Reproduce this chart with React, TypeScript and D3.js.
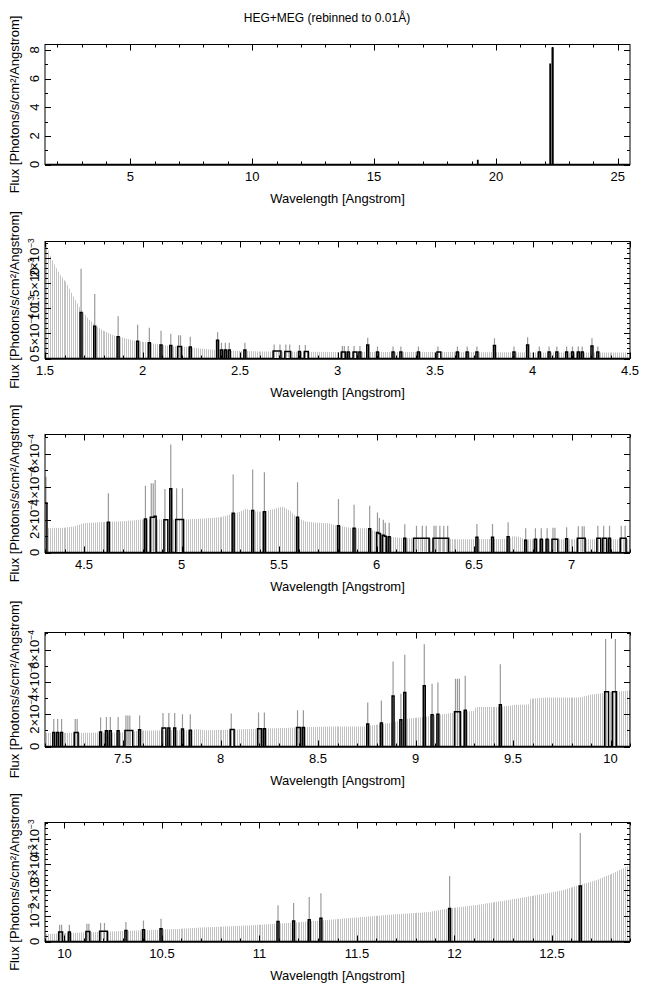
import * as d3 from "d3";

// HEG+MEG spectrum, 0.01 Å bins, shown as one overview panel and four 3 Å zoom panels.

type Bin = [number, number, number]; // bin start [Å], flux, top of error bar (0 = none drawn)
type Knot = [number, number]; // wavelength [Å], upper error of empty bins

const BIN = 0.01;
const TITLE = "HEG+MEG (rebinned to 0.01Å)";
const X_TITLE = "Wavelength [Angstrom]";
const Y_TITLE = "Flux [Photons/s/cm²/Angstrom]";

// ---- panel 1: full band
const P1_X = [1.5, 25.5];
const P1_YTICKS = [0, 2, 4, 6, 8];
const P1_YLABELS = ["0", "2", "4", "6", "8"];
const P1_BINS: Bin[] = [
  [19.25, 0.28, 0],
  [22.22, 7.0, 0],
  [22.31, 8.1, 0],
  [22.32, 8.15, 0],
  [22.33, 8.1, 0],
];
const P1_ENV: Knot[] = [];

// ---- panel 2: 1.5 - 4.5 Å
const P2_X = [1.5, 4.5];
const P2_YTICKS = [0, 5e-4, 1e-3, 1.5e-3, 2e-3];
const P2_YLABELS = ["0", "5×10^−4", "10^−3", "1.5×10^−3", "2×10^−3"];
const P2_ENV: Knot[] = [
  [1.5, 2.4e-3], [1.52, 2.1e-3], [1.55, 1.85e-3], [1.58, 1.65e-3], [1.61, 1.5e-3],
  [1.65, 1.2e-3], [1.68, 1.0e-3], [1.72, 0.8e-3], [1.76, 0.65e-3], [1.8, 0.55e-3],
  [1.85, 0.46e-3], [1.9, 0.41e-3], [1.95, 0.36e-3], [2.0, 0.33e-3], [2.05, 0.3e-3],
  [2.1, 0.27e-3], [2.15, 0.25e-3], [2.2, 0.24e-3], [2.25, 0.22e-3], [2.3, 0.2e-3],
  [2.35, 0.18e-3], [2.4, 0.16e-3], [2.5, 0.15e-3], [2.6, 0.14e-3], [3.0, 0.13e-3],
  [3.5, 0.13e-3], [4.0, 0.12e-3], [4.5, 0.12e-3],
];
const P2_BINS: Bin[] = [
  [1.68, 0.91e-3, 1.78e-3], [1.75, 0.64e-3, 1.28e-3], [1.87, 0.43e-3, 0.84e-3],
  [1.97, 0.34e-3, 0.67e-3], [2.03, 0.31e-3, 0.61e-3], [2.09, 0.27e-3, 0.55e-3],
  [2.14, 0.26e-3, 0.49e-3], [2.18, 0.24e-3, 0.46e-3], [2.19, 0.24e-3, 0.46e-3],
  [2.24, 0.23e-3, 0.43e-3], [2.38, 0.36e-3, 0.52e-3],
  [2.4, 0.17e-3, 0.31e-3], [2.42, 0.17e-3, 0.31e-3], [2.44, 0.17e-3, 0.31e-3],
  [2.52, 0.17e-3, 0.31e-3],
  [2.67, 0.15e-3, 0.28e-3], [2.68, 0.15e-3, 0], [2.69, 0.15e-3, 0], [2.7, 0.15e-3, 0.28e-3],
  [2.73, 0.14e-3, 0.28e-3], [2.74, 0.14e-3, 0], [2.75, 0.14e-3, 0.28e-3],
  [2.8, 0.14e-3, 0.27e-3], [2.83, 0.14e-3, 0.27e-3], [2.84, 0.14e-3, 0],
  [3.02, 0.13e-3, 0.25e-3], [3.03, 0.13e-3, 0.25e-3], [3.05, 0.13e-3, 0.25e-3],
  [3.08, 0.13e-3, 0.25e-3], [3.09, 0.13e-3, 0], [3.11, 0.13e-3, 0.25e-3],
  [3.15, 0.27e-3, 0.41e-3], [3.2, 0.13e-3, 0.24e-3], [3.28, 0.13e-3, 0.24e-3],
  [3.32, 0.13e-3, 0.24e-3], [3.41, 0.13e-3, 0.24e-3], [3.51, 0.13e-3, 0.24e-3],
  [3.52, 0.13e-3, 0], [3.61, 0.13e-3, 0.24e-3], [3.66, 0.13e-3, 0.24e-3],
  [3.71, 0.13e-3, 0.24e-3], [3.8, 0.26e-3, 0.4e-3], [3.9, 0.13e-3, 0.24e-3],
  [3.97, 0.27e-3, 0.42e-3], [4.03, 0.13e-3, 0.24e-3], [4.08, 0.13e-3, 0.24e-3],
  [4.12, 0.13e-3, 0.24e-3], [4.17, 0.13e-3, 0.24e-3], [4.2, 0.13e-3, 0.24e-3],
  [4.23, 0.13e-3, 0.24e-3], [4.25, 0.13e-3, 0.24e-3], [4.3, 0.25e-3, 0.4e-3],
  [4.33, 0.13e-3, 0.24e-3],
];

// ---- panel 3: 4.3 - 7.3 Å
const P3_X = [4.3, 7.3];
const P34_YTICKS = [0, 2e-4, 4e-4, 6e-4];
const P34_YLABELS = ["0", "2×10^−4", "4×10^−4", "6×10^−4"];
const P3_ENV: Knot[] = [
  [4.3, 1.47e-4], [4.4, 1.5e-4], [4.45, 1.6e-4], [4.5, 1.77e-4], [4.6, 1.85e-4],
  [4.7, 1.9e-4], [4.8, 2.0e-4], [5.0, 2.0e-4], [5.1, 2.05e-4], [5.2, 2.14e-4],
  [5.3, 2.48e-4], [5.33, 2.65e-4], [5.37, 2.5e-4], [5.42, 2.48e-4], [5.47, 2.63e-4],
  [5.52, 2.79e-4], [5.56, 2.5e-4], [5.59, 2.14e-4], [5.64, 1.87e-4], [5.7, 1.8e-4],
  [5.75, 1.77e-4], [5.8, 1.63e-4], [5.88, 1.47e-4], [5.95, 1.47e-4], [6.0, 1.26e-4],
  [6.07, 0.95e-4], [6.14, 0.86e-4], [6.33, 0.86e-4], [6.4, 0.81e-4], [6.68, 0.82e-4],
  [6.7, 1.0e-4], [6.73, 0.95e-4], [6.76, 0.8e-4], [7.3, 0.8e-4],
];
const P3_BINS: Bin[] = [
  [4.3, 3.0e-4, 4.6e-4], [4.62, 1.83e-4, 3.6e-4], [4.81, 2.04e-4, 4.05e-4],
  [4.84, 2.14e-4, 4.2e-4], [4.85, 2.14e-4, 4.2e-4], [4.86, 2.2e-4, 4.4e-4],
  [4.91, 1.98e-4, 3.85e-4], [4.92, 1.98e-4, 0], [4.94, 3.87e-4, 6.56e-4],
  [4.97, 2.0e-4, 3.9e-4], [4.98, 2.0e-4, 0], [4.99, 2.0e-4, 0], [5.0, 2.0e-4, 3.9e-4],
  [5.26, 2.38e-4, 4.73e-4], [5.36, 2.55e-4, 5.03e-4], [5.42, 2.47e-4, 4.87e-4],
  [5.59, 2.14e-4, 4.26e-4], [5.8, 1.63e-4, 3.24e-4], [5.88, 1.47e-4, 2.9e-4],
  [5.96, 1.44e-4, 2.83e-4], [6.0, 1.22e-4, 2.42e-4], [6.01, 1.15e-4, 2.1e-4],
  [6.03, 1.05e-4, 1.98e-4], [6.04, 0.98e-4, 1.8e-4], [6.06, 0.95e-4, 1.8e-4],
  [6.14, 0.86e-4, 1.71e-4],
  [6.19, 0.86e-4, 0], [6.2, 0.86e-4, 1.63e-4], [6.21, 0.86e-4, 0], [6.22, 0.86e-4, 0],
  [6.23, 0.86e-4, 1.63e-4], [6.24, 0.86e-4, 0], [6.25, 0.86e-4, 1.63e-4], [6.26, 0.86e-4, 0],
  [6.29, 0.86e-4, 1.63e-4], [6.3, 0.86e-4, 1.63e-4], [6.31, 0.86e-4, 0],
  [6.32, 0.86e-4, 1.63e-4], [6.33, 0.86e-4, 0], [6.34, 0.86e-4, 1.63e-4],
  [6.35, 0.86e-4, 0], [6.36, 0.86e-4, 1.63e-4],
  [6.51, 0.92e-4, 1.73e-4], [6.59, 0.92e-4, 1.73e-4], [6.67, 0.95e-4, 1.83e-4],
  [6.76, 0.75e-4, 1.47e-4], [6.81, 0.8e-4, 1.47e-4], [6.84, 0.8e-4, 1.47e-4],
  [6.87, 0.8e-4, 1.47e-4], [6.9, 0.8e-4, 1.5e-4], [6.91, 0.8e-4, 1.5e-4], [6.92, 0.8e-4, 0],
  [6.97, 0.83e-4, 1.53e-4], [7.03, 0.86e-4, 1.6e-4], [7.04, 0.86e-4, 0],
  [7.05, 0.86e-4, 1.6e-4], [7.06, 0.86e-4, 1.6e-4],
  [7.13, 0.86e-4, 1.63e-4], [7.14, 0.86e-4, 0], [7.16, 0.86e-4, 1.63e-4],
  [7.17, 0.86e-4, 0], [7.19, 0.86e-4, 1.63e-4],
  [7.25, 0.86e-4, 1.63e-4], [7.26, 0.86e-4, 0], [7.27, 0.86e-4, 1.63e-4],
];

// ---- panel 4: 7.1 - 10.1 Å
const P4_X = [7.1, 10.1];
const P4_ENV: Knot[] = [
  [7.1, 0.83e-4], [7.3, 0.85e-4], [7.5, 0.87e-4], [7.6, 0.99e-4], [7.85, 1.0e-4],
  [7.88, 1.08e-4], [7.92, 1.0e-4], [8.0, 1.02e-4], [8.2, 1.1e-4], [8.4, 1.18e-4],
  [8.56, 1.24e-4], [8.73, 1.24e-4], [8.87, 1.45e-4], [8.95, 1.7e-4], [9.04, 1.82e-4],
  [9.14, 2.0e-4], [9.24, 2.17e-4], [9.3, 2.2e-4], [9.31, 2.44e-4], [9.42, 2.44e-4],
  [9.52, 2.58e-4], [9.58, 2.6e-4], [9.59, 2.95e-4], [9.67, 3.03e-4], [9.84, 3.03e-4],
  [9.9, 3.2e-4], [9.98, 3.34e-4], [10.1, 3.47e-4],
];
const P4_BINS: Bin[] = [
  [7.14, 0.87e-4, 1.7e-4], [7.16, 0.87e-4, 1.7e-4], [7.18, 0.87e-4, 1.7e-4],
  [7.25, 0.87e-4, 1.7e-4], [7.26, 0.87e-4, 1.7e-4], [7.38, 0.9e-4, 1.8e-4],
  [7.41, 0.97e-4, 1.82e-4], [7.43, 0.97e-4, 1.82e-4], [7.47, 0.97e-4, 1.82e-4],
  [7.51, 0.99e-4, 1.92e-4], [7.52, 0.99e-4, 1.92e-4], [7.53, 0.99e-4, 1.92e-4], [7.54, 0.99e-4, 0],
  [7.58, 1.03e-4, 1.92e-4], [7.7, 1.14e-4, 2.07e-4], [7.71, 1.14e-4, 0],
  [7.73, 1.14e-4, 2.07e-4], [7.76, 1.14e-4, 2.07e-4], [7.8, 1.08e-4, 2.0e-4],
  [7.84, 1.0e-4, 2.0e-4],
  [8.05, 1.05e-4, 2.05e-4], [8.06, 1.05e-4, 0], [8.19, 1.1e-4, 2.1e-4], [8.2, 1.1e-4, 0],
  [8.22, 1.1e-4, 2.1e-4], [8.39, 1.18e-4, 2.25e-4], [8.4, 1.18e-4, 0], [8.42, 1.18e-4, 2.25e-4],
  [8.75, 1.4e-4, 2.72e-4], [8.82, 1.45e-4, 2.85e-4], [8.88, 3.12e-4, 5.26e-4],
  [8.92, 1.65e-4, 3.26e-4], [8.94, 3.34e-4, 5.68e-4], [9.04, 3.76e-4, 6.34e-4],
  [9.08, 1.96e-4, 3.88e-4], [9.11, 2.0e-4, 3.96e-4], [9.2, 2.15e-4, 4.19e-4],
  [9.21, 2.15e-4, 4.19e-4], [9.22, 2.15e-4, 4.19e-4], [9.25, 2.25e-4, 4.38e-4],
  [9.43, 2.58e-4, 5.1e-4], [9.97, 3.39e-4, 6.65e-4], [9.98, 3.39e-4, 0],
  [10.01, 3.39e-4, 0], [10.02, 3.39e-4, 6.65e-4],
];

// ---- panel 5: 9.9 - 12.9 Å
const P5_X = [9.9, 12.9];
const P5_YTICKS = [0, 1e-3, 2e-3, 3e-3, 4e-3];
const P5_YLABELS = ["0", "10^−3", "2×10^−3", "3×10^−3", "4×10^−3"];
const P5_ENV: Knot[] = [
  [9.9, 0.29e-3], [10.0, 0.32e-3], [10.1, 0.35e-3], [10.2, 0.38e-3], [10.3, 0.41e-3],
  [10.4, 0.44e-3], [10.5, 0.47e-3], [10.6, 0.5e-3], [10.7, 0.54e-3], [10.8, 0.57e-3],
  [11.0, 0.65e-3], [11.2, 0.75e-3], [11.36, 0.85e-3], [11.53, 0.95e-3], [11.7, 1.06e-3],
  [11.87, 1.15e-3], [11.97, 1.28e-3], [12.13, 1.44e-3], [12.3, 1.64e-3], [12.47, 1.87e-3],
  [12.56, 2.0e-3], [12.64, 2.2e-3], [12.73, 2.39e-3], [12.81, 2.65e-3], [12.88, 2.91e-3],
  [12.9, 2.98e-3],
];
const P5_BINS: Bin[] = [
  [9.97, 0.37e-3, 0.65e-3], [9.98, 0.37e-3, 0.65e-3], [10.02, 0.37e-3, 0.65e-3],
  [10.11, 0.39e-3, 0.69e-3], [10.12, 0.39e-3, 0.69e-3], [10.18, 0.4e-3, 0.72e-3],
  [10.19, 0.4e-3, 0], [10.2, 0.4e-3, 0.72e-3], [10.21, 0.4e-3, 0],
  [10.31, 0.43e-3, 0.76e-3], [10.4, 0.46e-3, 0.82e-3], [10.49, 0.5e-3, 0.89e-3],
  [11.09, 0.78e-3, 1.41e-3], [11.17, 0.8e-3, 1.5e-3], [11.25, 0.85e-3, 1.73e-3],
  [11.31, 0.9e-3, 1.88e-3], [11.97, 1.28e-3, 2.55e-3], [12.64, 2.16e-3, 4.22e-3],
];

const LEFT = 45;
const RIGHT = 630;
const FONT = "'Liberation Sans', Arial, Helvetica, sans-serif";

const PANELS = [
  { x: P1_X, yMax: 8.38, top: 44.5, bottom: 164.5, xMajor: 5, xMinor: 1, yMinor: 1, yTicks: P1_YTICKS, yLabels: P1_YLABELS, bins: P1_BINS, env: P1_ENV },
  { x: P2_X, yMax: 2.32e-3, top: 241.5, bottom: 358.5, xMajor: 0.5, xMinor: 0.1, yMinor: 1e-4, yTicks: P2_YTICKS, yLabels: P2_YLABELS, bins: P2_BINS, env: P2_ENV },
  { x: P3_X, yMax: 7.16e-4, top: 434.5, bottom: 552.5, xMajor: 0.5, xMinor: 0.1, yMinor: 1e-4, yTicks: P34_YTICKS, yLabels: P34_YLABELS, bins: P3_BINS, env: P3_ENV },
  { x: P4_X, yMax: 7.06e-4, top: 632.5, bottom: 746.5, xMajor: 0.5, xMinor: 0.1, yMinor: 1e-4, yTicks: P34_YTICKS, yLabels: P34_YLABELS, bins: P4_BINS, env: P4_ENV },
  { x: P5_X, yMax: 4.63e-3, top: 822.5, bottom: 941.5, xMajor: 0.5, xMinor: 0.1, yMinor: 2e-4, yTicks: P5_YTICKS, yLabels: P5_YLABELS, bins: P5_BINS, env: P5_ENV },
];

function steps(lo: number, hi: number, step: number) {
  const a = Math.ceil(lo / step - 1e-6);
  const b = Math.floor(hi / step + 1e-6);
  return d3.range(a, b + 1).map((k) => +(k * step).toFixed(6));
}

function Label({ text }: { text: string }) {
  const [base, exp] = text.split("^");
  return (
    <>
      {base}
      {exp && (
        <tspan dy={-5} fontSize={8.5}>
          {exp}
        </tspan>
      )}
    </>
  );
}

function Panel({ p, i }: { p: (typeof PANELS)[0]; i: number }) {
  const [lo, hi] = p.x;
  const x = d3.scaleLinear().domain([lo, hi]).range([LEFT, RIGHT]);
  const y = d3.scaleLinear().domain([0, p.yMax]).range([p.bottom, p.top]);
  const n = Math.round((hi - lo) / BIN);

  const flux = new Array(n).fill(0);
  p.bins.forEach(([w, f]) => {
    const k = Math.round((w - lo) / BIN);
    if (k >= 0 && k < n) flux[k] = f;
  });
  const edges = d3.range(n + 1).map((k) => ({ e: lo + k * BIN, v: flux[Math.min(k, n - 1)] }));
  const step = d3
    .line<{ e: number; v: number }>()
    .x((d) => x(d.e))
    .y((d) => y(d.v))
    .curve(d3.curveStepAfter);

  const envArea = d3
    .area<Knot>()
    .x((d) => x(d[0]))
    .y0(y(0))
    .y1((d) => y(d[1]));

  const hatch = d3
    .range(n)
    .map((k) => `M${Math.round(x(lo + (k + 0.5) * BIN)) + 0.5},${p.bottom}V${p.top}`)
    .join("");

  const errs = p.bins
    .filter((b) => b[2] > 0)
    .map(([w, , u]) => `M${x(w + BIN / 2)},${y(0)}V${y(u)}`)
    .join("");

  const xMaj = steps(lo, hi, p.xMajor);
  const xMin = steps(lo, hi, p.xMinor);
  const yMin = steps(0, p.yMax, p.yMinor);
  const mid = (LEFT + RIGHT) / 2;

  return (
    <g>
      <defs>
        <clipPath id={`plot${i}`}>
          <rect x={LEFT} y={p.top} width={RIGHT - LEFT} height={p.bottom - p.top} />
        </clipPath>
        {p.env.length > 0 && (
          <clipPath id={`env${i}`}>
            <path d={envArea(p.env) ?? ""} />
          </clipPath>
        )}
      </defs>
      <g clipPath={`url(#plot${i})`}>
        {p.env.length > 0 && (
          <g clipPath={`url(#env${i})`}>
            <path d={hatch} stroke="#c2c2c2" strokeWidth={1} shapeRendering="crispEdges" />
          </g>
        )}
        <path d={errs} stroke="#9a9a9a" strokeWidth={1.2} />
        <path
          d={step(edges) ?? ""}
          fill="none"
          stroke="#000"
          strokeWidth={1.5}
          strokeLinejoin="miter"
        />
      </g>
      <rect
        x={LEFT}
        y={p.top}
        width={RIGHT - LEFT}
        height={p.bottom - p.top}
        fill="none"
        stroke="#000"
        strokeWidth={1}
      />
      <line x1={LEFT} x2={RIGHT} y1={p.bottom + 0.5} y2={p.bottom + 0.5} stroke="#000" strokeWidth={1.5} />
      {/* x ticks, bottom and top, pointing inward */}
      {xMin.map((t) => {
        const major = xMaj.some((m) => Math.abs(m - t) < 1e-6);
        const l = major ? 6 : 3;
        const xx = Math.round(x(t)) + 0.5;
        return (
          <g key={`x${t}`} stroke="#000">
            <line x1={xx} x2={xx} y1={p.bottom} y2={p.bottom - l} />
            <line x1={xx} x2={xx} y1={p.top} y2={p.top + l} />
          </g>
        );
      })}
      {yMin.map((t) => {
        const major = p.yTicks.some((m) => Math.abs(m - t) < p.yMinor * 1e-3);
        const l = major ? 6 : 3;
        const yy = Math.round(y(t)) + 0.5;
        return (
          <g key={`y${t}`} stroke="#000">
            <line x1={LEFT} x2={LEFT + l} y1={yy} y2={yy} />
            <line x1={RIGHT} x2={RIGHT - l} y1={yy} y2={yy} />
          </g>
        );
      })}
      {xMaj.map((t) => (
        <text key={`xl${t}`} x={x(t)} y={p.bottom + 16} textAnchor="middle">
          {String(t)}
        </text>
      ))}
      {p.yTicks.map((t, j) => (
        <text
          key={`yl${t}`}
          transform={`translate(38.5,${y(t)}) rotate(-90)`}
          textAnchor="middle"
        >
          <Label text={p.yLabels[j]} />
        </text>
      ))}
      <text x={mid} y={p.bottom + 38} textAnchor="middle">
        {X_TITLE}
      </text>
      <text
        transform={`translate(19,${(p.top + p.bottom) / 2}) rotate(-90)`}
        textAnchor="middle"
      >
        {Y_TITLE}
      </text>
    </g>
  );
}

export default function App() {
  return (
    <svg
      width={650}
      height={991}
      style={{ position: "absolute", left: 0, top: 0, background: "#fff" }}
      fontFamily={FONT}
      fontSize={13}
      fill="#000"
    >
      <rect width={650} height={991} fill="#fff" />
      <text x={327} y={22} textAnchor="middle" fontSize={12}>
        {TITLE}
      </text>
      {PANELS.map((p, i) => (
        <Panel key={i} p={p} i={i} />
      ))}
    </svg>
  );
}
